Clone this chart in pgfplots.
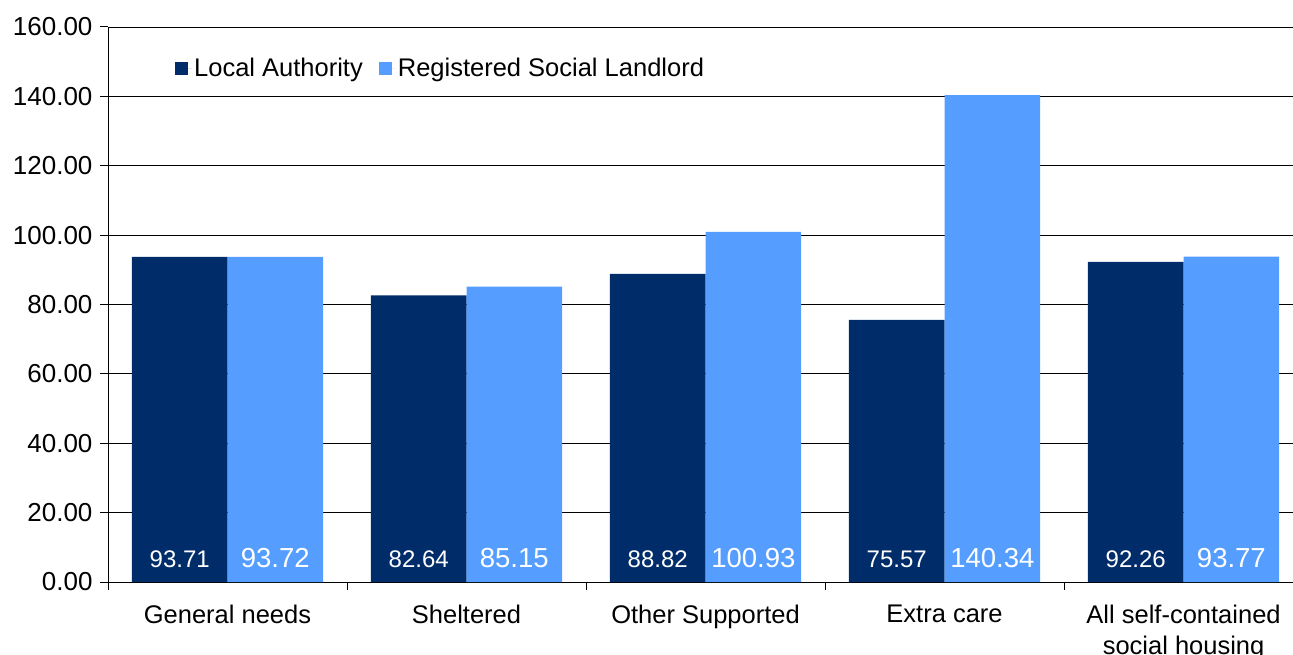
\documentclass[border=0pt]{standalone}
\usepackage{fontspec}
\setmainfont{Liberation Sans}
\usepackage{pgfplots}
\pgfplotsset{compat=1.18}
\usepackage{pgfplotstable}

\definecolor{laBlue}{RGB}{0,45,106}
\definecolor{rslBlue}{RGB}{85,158,255}

% rent index by housing type
\pgfplotstableread{
x la rsl
0 93.71 93.72
1 82.64 85.15
2 88.82 100.93
3 75.57 140.34
4 92.26 93.77
}\rents

\begin{document}
\begin{tikzpicture}
\useasboundingbox (0,0) rectangle (1293pt,654pt);
\begin{axis}[
  at={(108pt,72pt)}, anchor=south west,
  scale only axis, width=1185pt, height=555pt,
  ybar, bar width=0.4,
  xmin=-0.5, xmax=4.458, ymin=0, ymax=160,
  axis x line*=bottom, axis y line*=left,
  axis line style={-, line width=1pt, black},
  ytick={0,20,...,160},
  xtick={0,1,2,3,4},
  xticklabels={General needs, Sheltered, Other Supported, Extra care, {All self-contained\\social housing}},
  minor xtick={-0.5,0.5,1.5,2.5,3.5,4.5},
  tick align=outside,
  major tick length=8pt, minor tick length=8pt,
  tick style={black, line width=1pt},
  major x tick style={draw=none},
  ymajorgrids, grid style={black, line width=0.8pt},
  xticklabel style={font=\fontsize{25.5}{31}\selectfont, align=center, yshift=-11pt},
  yticklabel style={font=\fontsize{26}{28}\selectfont, xshift=-4pt},
  /pgf/number format/fixed,
  /pgf/number format/fixed zerofill,
  /pgf/number format/precision=2,
  /pgf/number format/assume math mode=true,
  legend columns=2,
  legend style={draw=none, fill=none, at={(0.054,0.926)}, anchor=west,
    font=\fontsize{25.5}{28}\selectfont,
    /tikz/every even column/.append style={column sep=14pt}},
  legend image code/.code={\fill[#1] (0pt,-6.5pt) rectangle (13pt,6.5pt);
    \path (0pt,0pt) -- (17pt,0pt);},
  nodes near coords,
  visualization depends on=rawy\as\rawy,
  every node near coord/.append style={shift={(axis direction cs:0,-\rawy)},
    anchor=base, yshift=15pt, text=white},
]
\addplot[fill=laBlue, draw=none, bar shift=-0.2,
  every node near coord/.append style={font=\fontsize{24}{28}\selectfont}]
  table[x=x, y=la] {\rents};
\addplot[fill=rslBlue, draw=none, bar shift=0.2,
  every node near coord/.append style={font=\fontsize{27.5}{30}\selectfont}]
  table[x=x, y=rsl] {\rents};
\legend{Local Authority, Registered Social Landlord}
\end{axis}
\end{tikzpicture}
\end{document}
